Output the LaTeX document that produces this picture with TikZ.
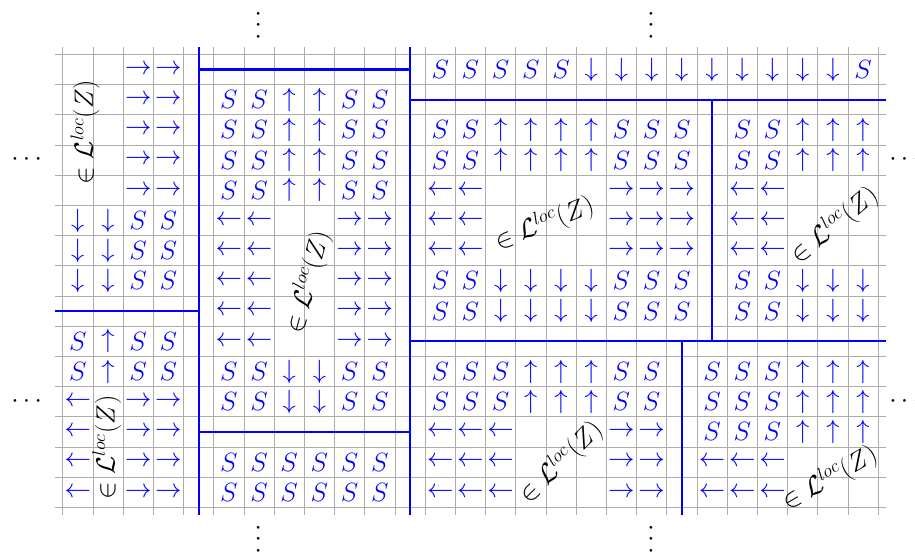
\documentclass[tikz,border=0pt]{standalone}
\usepackage{amsmath}
\usepackage{amssymb}

% Glyphs used in the cells
\newcommand{\sgS}{$S$}
\newcommand{\sgu}{$\uparrow$}
\newcommand{\sgd}{$\downarrow$}
\newcommand{\sgl}{$\leftarrow$}
\newcommand{\sgr}{$\rightarrow$}

\begin{document}
\begin{tikzpicture}[x=1cm, y=1cm]
    % Styles
    \tikzstyle{cellgrid} = [draw=gray!65, line width=0.6pt]
    \tikzstyle{wall} = [draw=blue, line width=2pt]
    \tikzstyle{sym} = [blue, inner sep=0pt, font=\fontsize{23}{28}\selectfont]
    \tikzstyle{loclabel} = [black, inner sep=0pt, font=\fontsize{24}{29}\selectfont]
    \tikzstyle{dots} = [black, inner sep=0pt, font=\fontsize{23}{28}\selectfont]
    \tikzstyle{vdots} = [dots, rotate=90]

    \useasboundingbox (-2.076,-1.447) rectangle (28.22,16.80);

    % --- Grid ---
    \draw[cellgrid] (-0.25,-0.25) grid (27.25,15.25);

    % --- Cell contents, row by row from the top ---
    \foreach \line [count=\r from 0] in {
        {o,o,r,r,o, o,o,o,o,o,o, o, S,S,S,S,S,d,d,d,d,d,d,d,d,d,S},
        {o,o,r,r,o, S,S,u,u,S,S, o, o,o,o,o,o,o,o,o,o,o,o,o,o,o,o},
        {o,o,r,r,o, S,S,u,u,S,S, o, S,S,u,u,u,u,S,S,S, o, S,S,u,u,u},
        {o,o,r,r,o, S,S,u,u,S,S, o, S,S,u,u,u,u,S,S,S, o, S,S,u,u,u},
        {o,o,r,r,o, S,S,u,u,S,S, o, l,l,o,o,o,o,r,r,r, o, l,l,o,o,o},
        {d,d,S,S,o, l,l,o,o,r,r, o, l,l,o,o,o,o,r,r,r, o, l,l,o,o,o},
        {d,d,S,S,o, l,l,o,o,r,r, o, l,l,o,o,o,o,r,r,r, o, l,l,o,o,o},
        {d,d,S,S,o, l,l,o,o,r,r, o, S,S,d,d,d,d,S,S,S, o, S,S,d,d,d},
        {o,o,o,o,o, l,l,o,o,r,r, o, S,S,d,d,d,d,S,S,S, o, S,S,d,d,d},
        {S,u,S,S,o, l,l,o,o,r,r, o, o,o,o,o,o,o,o,o,o,o,o,o,o,o,o},
        {S,u,S,S,o, S,S,d,d,S,S, o, S,S,S,u,u,u,S,S, o, S,S,S,u,u,u},
        {l,o,r,r,o, S,S,d,d,S,S, o, S,S,S,u,u,u,S,S, o, S,S,S,u,u,u},
        {l,o,r,r,o, o,o,o,o,o,o, o, l,l,l,o,o,o,r,r, o, S,S,S,u,u,u},
        {l,o,r,r,o, S,S,S,S,S,S, o, l,l,l,o,o,o,r,r, o, l,l,l,o,o,o},
        {l,o,r,r,o, S,S,S,S,S,S, o, l,l,l,o,o,o,r,r, o, l,l,l,o,o,o}} {
        \foreach \cl [count=\k from 0] in \line {
            \if o\cl\else
                \node[sym] (cell-\k-\r) at ({\k+0.5},{14.5-\r}) {\csname sg\cl\endcsname};
            \fi
        }
    }

    % --- Region walls ---
    \draw[wall] (4.5,-0.25) -- (4.5,15.25);
    \draw[wall] (11.5,-0.25) -- (11.5,15.25);
    \draw[wall] (-0.25,6.5) -- (4.5,6.5);
    \draw[wall] (4.5,14.5) -- (11.5,14.5);
    \draw[wall] (4.5,2.5) -- (11.5,2.5);
    \draw[wall] (11.5,13.5) -- (27.25,13.5);
    \draw[wall] (11.5,5.5) -- (27.25,5.5);
    \draw[wall] (21.5,13.5) -- (21.5,5.5);
    \draw[wall] (20.5,5.5) -- (20.5,-0.25);

    % --- Labels ---
    \node[loclabel, rotate=90] (loc-lt) at (0.74,12.43) {$\in \mathcal{L}^{loc}(Z)$};
    \node[loclabel, rotate=90] (loc-lb) at (1.46,1.98) {$\in \mathcal{L}^{loc}(Z)$};
    \node[loclabel, rotate=75] (loc-m) at (8.12,7.46) {$\in \mathcal{L}^{loc}(Z)$};
    \node[loclabel, rotate=22] (loc-ra) at (15.95,9.4) {$\in \mathcal{L}^{loc}(Z)$};
    \node[loclabel, rotate=40] (loc-rb) at (25.55,9.35) {$\in \mathcal{L}^{loc}(Z)$};
    \node[loclabel, rotate=45] (loc-rc) at (16.5,1.5) {$\in \mathcal{L}^{loc}(Z)$};
    \node[loclabel, rotate=30] (loc-rd) at (25.4,0.97) {$\in \mathcal{L}^{loc}(Z)$};

    % --- Continuation dots ---
    \node[vdots] (vd-tl) at (6.5,16.04) {$\cdots$};
    \node[vdots] (vd-tr) at (19.5,16.04) {$\cdots$};
    \node[vdots] (vd-bl) at (6.5,-0.98) {$\cdots$};
    \node[vdots] (vd-br) at (19.5,-0.98) {$\cdots$};
    \node[dots] (cd-lt) at (-1.12,11.5) {$\cdots$};
    \node[dots] (cd-lb) at (-1.12,3.5) {$\cdots$};
    \node[dots] (cd-rt) at (27.95,11.5) {$\cdots$};
    \node[dots] (cd-rb) at (27.95,3.5) {$\cdots$};
\end{tikzpicture}
\end{document}
